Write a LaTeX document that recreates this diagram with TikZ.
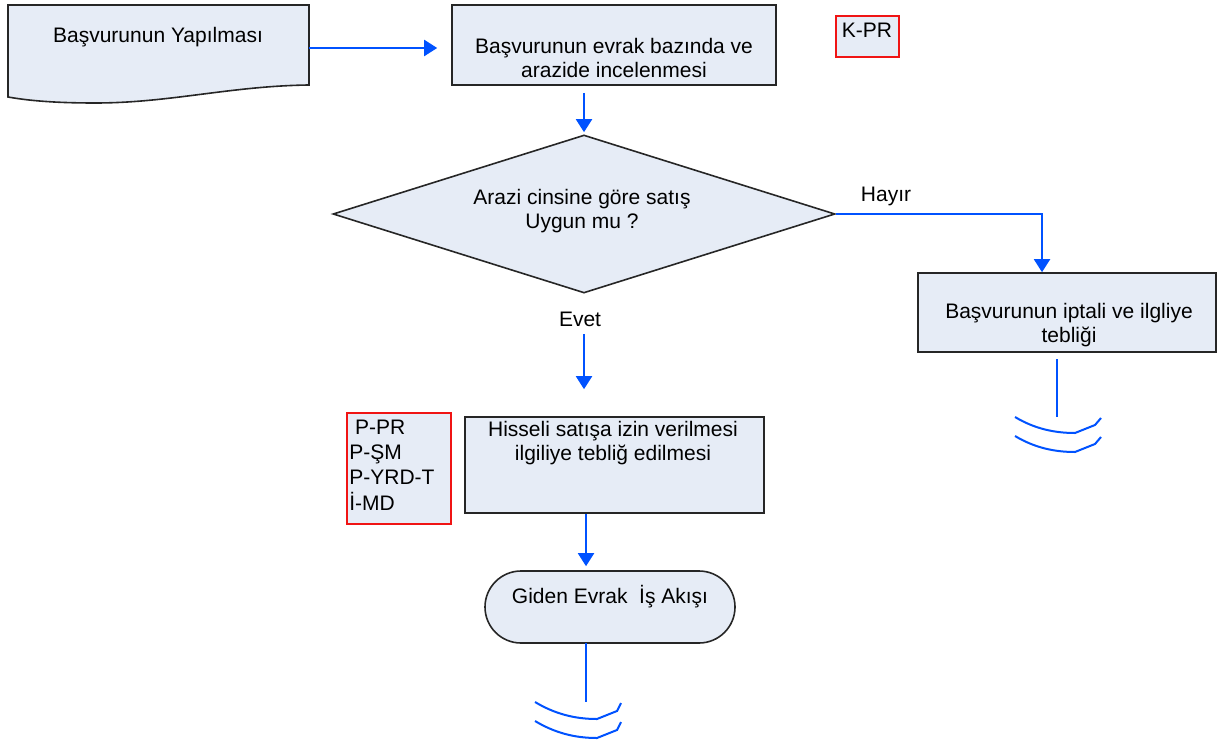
\documentclass[tikz,border=0pt]{standalone}
\usepackage{fontspec}
\setmainfont{Liberation Sans}
\usetikzlibrary{shapes.geometric}
\usetikzlibrary{arrows.meta}

\definecolor{boxfill}{RGB}{230,236,246}
\definecolor{flowblue}{RGB}{0,82,255}
\definecolor{refred}{RGB}{240,20,20}

\begin{document}
\begin{tikzpicture}[x=0.5pt, y=-0.5pt,
        every node/.style={font=\fontsize{10.5}{12}\selectfont},
        box/.style={draw=black!85, fill=boxfill, line width=0.8pt, inner sep=0pt},
        codebox/.style={draw=refred, fill=boxfill, line width=1pt, inner sep=0pt},
        flow/.style={draw=flowblue, line width=1pt, -{Triangle[length=6.5pt,width=8pt]}},
        tail/.style={draw=flowblue, line width=1pt}]
    \useasboundingbox (0,0) rectangle (1218,743);

    % the application, drawn as a document sheet
    \coordinate (doc-nw) at (8,5);
    \coordinate (doc-ne) at (309,5);
    \coordinate (doc-se) at (309,85);
    \coordinate (doc-sw) at (8,97);
    \draw[box] (doc-nw) -- (doc-ne) -- (doc-se)
        .. controls (230,86) and (170,103) .. (95,103)
        .. controls (50,103) and (25,100) .. (doc-sw) -- cycle;
    \node (basvuru) at (158,37) {Başvurunun Yapılması};
    \coordinate (basvuru-out) at (309,48);

    \node[box, minimum width=162pt, minimum height=40pt] (inceleme) at (614,45) {};
    \node[align=center] (inceleme-t) at (614,58) {Başvurunun evrak bazında ve\\arazide incelenmesi};

    \node[codebox, minimum width=31.5pt, minimum height=20.5pt] (kpr) at (867.5,36.5) {};
    \node (kpr-t) at (867,30) {K-PR};

    % decision
    \node[box, diamond, minimum width=251pt, minimum height=79pt] (karar) at (584,214) {};
    \node[align=center] (karar-t) at (582,211) {Arazi cinsine göre satış\\Uygun mu ?};

    \node[box, minimum width=149pt, minimum height=39.5pt] (iptal) at (1067,312.5) {};
    \node[align=center] (iptal-t) at (1069,325) {Başvurunun iptali ve ilgliye\\tebliği};

    \node[box, minimum width=149.5pt, minimum height=48pt] (hisseli) at (614.5,465) {};
    \node[align=center] (hisseli-t) at (613,443) {Hisseli satışa izin verilmesi\\ilgiliye tebliğ edilmesi};

    \node[codebox, minimum width=52pt, minimum height=55.5pt] (kodlar) at (399,468.5) {};
    \node[align=left, anchor=west, inner sep=0pt, font=\fontsize{10.5}{12.7}\selectfont] (kodlar-t) at (349,465) {~P-PR\\P-ŞM\\P-YRD-T\\İ-MD};

    \node[box, rounded corners=18pt, minimum width=125pt, minimum height=36pt] (giden) at (610,607) {};
    \node (giden-t) at (610,597) {Giden Evrak~ İş Akışı};

    \node (hayir) at (886,196) {Hayır};
    \node (evet) at (580,319) {Evet};

    % connectors
    \coordinate (hayir-k) at (1042,214);
    \coordinate (akis) at (586,0);
    \draw[flow, shorten >=7pt] (basvuru-out) -- (inceleme.west |- basvuru-out);
    \draw[flow, shorten <=3.5pt, shorten >=1pt] (inceleme.south -| karar.north) -- (karar.north);
    \draw[flow] (karar.east) -- (hayir-k) -- (hayir-k |- iptal.north);
    \draw[flow, shorten <=20pt, shorten >=13.5pt] (karar.south) -- (karar.south |- hisseli.north);
    \draw[flow, shorten >=2pt] (hisseli.south -| akis) -- (giden.north -| akis);

    % open ends
    \coordinate (son1) at (1057,359);
    \coordinate (son2) at (586,643);
    \draw[tail] (son1) -- ++(0,58);
    \draw[tail] (son2) -- ++(0,59);
    \foreach \dy in {0,19} {
        \draw[tail] (1015,417+\dy) .. controls (1035,429+\dy) and (1055,433+\dy) .. (1075,433+\dy) -- (1095,425+\dy) -- (1101,418+\dy);
        \draw[tail] (535,702+\dy) .. controls (555,714+\dy) and (575,719+\dy) .. (597,719+\dy) -- (617,711+\dy) -- (621,703+\dy);
    }
\end{tikzpicture}
\end{document}
